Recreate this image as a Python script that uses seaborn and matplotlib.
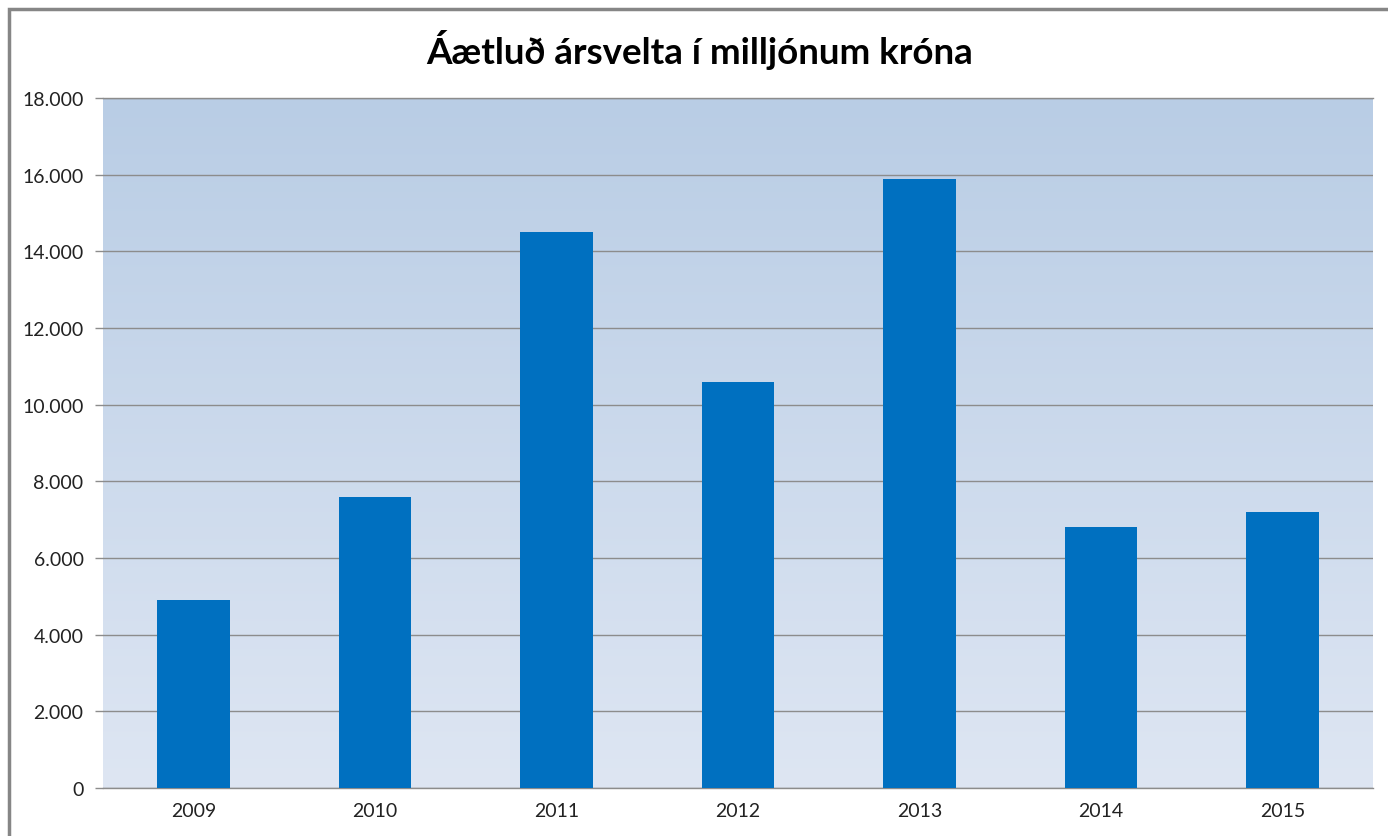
import numpy as np
import pandas as pd
import seaborn as sns
import matplotlib.pyplot as plt
from matplotlib.ticker import FuncFormatter, FixedLocator
from matplotlib.patches import Rectangle

years = ["2009", "2010", "2011", "2012", "2013", "2014", "2015"]
revenue = [4900, 7600, 14500, 10600, 15900, 6800, 7200]
yticks = [0, 2000, 4000, 6000, 8000, 10000, 12000, 14000, 16000, 18000]

df = pd.DataFrame({"year": years, "revenue": revenue})

sns.set_theme(style="white")
plt.rcParams['font.family'] = ['Lato', 'DejaVu Sans']

fig = plt.figure(figsize=(13.88, 8.37), dpi=100)
W, H = 1388, 837
ax = fig.add_axes([103 / W, 1 - 789 / H, (1373 - 103) / W, (789 - 99) / H])

# gradient background of plot area
grad = np.linspace(0, 1, 256).reshape(-1, 1)
top = np.array([185, 205, 229]) / 255
bot = np.array([222, 230, 243]) / 255
img = top + (bot - top) * grad[:, :, None] * np.ones((1, 1, 3))
ax.imshow(img, extent=[0, 1, 0, 1], transform=ax.transAxes, aspect="auto", zorder=0)

sns.barplot(data=df, x="year", y="revenue", color="#0070C0", width=0.4,
            saturation=1, linewidth=0, ax=ax, zorder=3)

ax.set_xlim(-0.5, len(years) - 0.5)
ax.set_ylim(0, 18000)
ax.set_yticks(yticks)
ax.yaxis.set_major_formatter(FuncFormatter(lambda v, p: f"{v:,.0f}".replace(",", ".")))
ax.yaxis.grid(True, color="#8c8c8c", linewidth=1, zorder=1)
ax.set_axisbelow(True)
ax.set_xlabel("")
ax.set_ylabel("")

ax.xaxis.set_minor_locator(FixedLocator(np.arange(-0.5, len(years), 1)))
ax.tick_params(axis="x", which="major", length=0, pad=10, labelsize=14, colors="#222222")
ax.tick_params(axis="x", which="minor", length=6, width=1, color="#8c8c8c", direction="out")
ax.tick_params(axis="y", length=6, width=1, color="#8c8c8c", pad=8, labelsize=14,
               labelcolor="#222222", direction="out", left=True)

for s in ["left", "right"]:
    ax.spines[s].set_visible(False)
ax.spines["top"].set_color("#8c8c8c")
ax.spines["bottom"].set_color("#8c8c8c")
ax.spines["top"].set_linewidth(1)
ax.spines["bottom"].set_linewidth(1)

fig.text(700 / W, 1 - 50 / H, "Áætluð ársvelta í milljónum króna", ha="center", va="center",
         fontsize=26.5, fontweight="bold", color="black")

# outer chart frame
fig.patches.append(Rectangle((9 / W, -0.1), 1.2, 1 - 10 / H + 0.1, transform=fig.transFigure,
                             fill=False, edgecolor="#868686", linewidth=2.5))

fig.savefig("out.png", dpi=100)
